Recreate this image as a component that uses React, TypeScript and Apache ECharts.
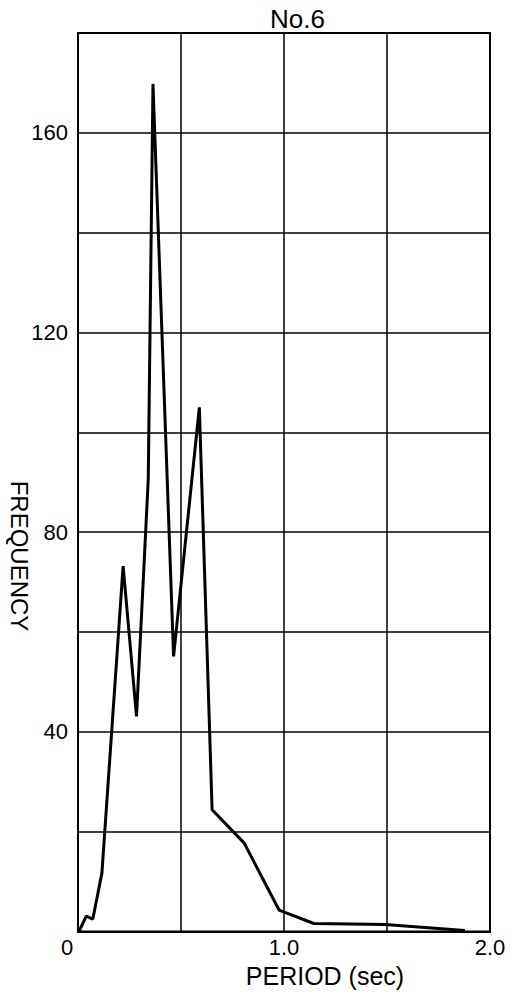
import React, { useEffect, useRef } from "react";
import * as echarts from "echarts";

const chartTitle = "No.6";
const xAxisName = "PERIOD (sec)";
const yAxisName = "FREQUENCY";

// Period (sec) and frequency
const periods = [0.005, 0.04, 0.072, 0.116, 0.219, 0.284, 0.341, 0.364, 0.464, 0.589, 0.651, 0.807, 0.976, 1.145, 1.491, 1.878];
const frequencies = [0, 3.1, 2.5, 11.7, 73.2, 43.1, 90.6, 169.8, 55.1, 105, 24.4, 17.7, 4.3, 1.6, 1.4, 0.2];

const xTickLabels: Record<string, string> = { "0": "{z|0}", "1": "1.0", "2": "2.0" };
const yTickLabels = [40, 80, 120, 160];

const FONT = "Liberation Sans, Arial, sans-serif";

export default function App() {
  const ref = useRef<HTMLDivElement>(null);

  useEffect(() => {
    if (!ref.current) return;
    const chart = echarts.init(ref.current, null, { renderer: "svg" });
    const data = periods.map((p, i) => [p, frequencies[i]]);
    chart.setOption({
      animation: false,
      backgroundColor: "#fff",
      title: {
        text: chartTitle,
        left: 265,
        top: 1,
        textStyle: { fontSize: 26, fontWeight: "normal", color: "#000", fontFamily: FONT },
      },
      grid: {
        left: 78,
        right: 33,
        top: 33,
        bottom: 67.5,
        show: true,
        borderColor: "#000",
        borderWidth: 2,
        backgroundColor: "transparent",
      },
      xAxis: {
        type: "value",
        min: 0,
        max: 2,
        interval: 0.5,
        name: xAxisName,
        nameLocation: "middle",
        nameGap: 30,
        nameTextStyle: { fontSize: 25, color: "#000", fontFamily: FONT, padding: [0, 0, 0, 82] },
        axisLine: { show: true, lineStyle: { color: "#000", width: 2 } },
        axisTick: { show: false },
        axisLabel: {
          margin: 5,
          fontSize: 22,
          color: "#000",
          fontFamily: FONT,
          formatter: (v: number) => xTickLabels[String(v)] ?? "",
          rich: { z: { fontSize: 22, color: "#000", fontFamily: FONT, padding: [0, 22, 0, 0] } },
        },
        splitLine: { show: true, lineStyle: { color: "#000", width: 1.5 } },
      },
      yAxis: {
        type: "value",
        min: 0,
        max: 180,
        interval: 20,
        axisLine: { show: true, lineStyle: { color: "#000", width: 2 } },
        axisTick: { show: false },
        axisLabel: {
          margin: 10,
          fontSize: 22,
          color: "#000",
          fontFamily: FONT,
          formatter: (v: number) => (yTickLabels.indexOf(v) >= 0 ? String(v) : ""),
        },
        splitLine: { show: true, lineStyle: { color: "#000", width: 1.5 } },
      },
      graphic: [
        {
          type: "text",
          x: 19,
          y: 556,
          rotation: -Math.PI / 2,
          style: {
            text: yAxisName,
            fontSize: 24,
            fontFamily: FONT,
            fill: "#000",
            align: "center",
            verticalAlign: "middle",
          },
        },
      ],
      series: [
        {
          type: "line",
          data,
          symbol: "none",
          lineStyle: { color: "#000", width: 3 },
          z: 5,
        },
      ],
    });
    return () => chart.dispose();
  }, []);

  return (
    <div
      ref={ref}
      style={{ position: "fixed", left: 0, top: 0, width: 523, height: 999, background: "#fff" }}
    />
  );
}
